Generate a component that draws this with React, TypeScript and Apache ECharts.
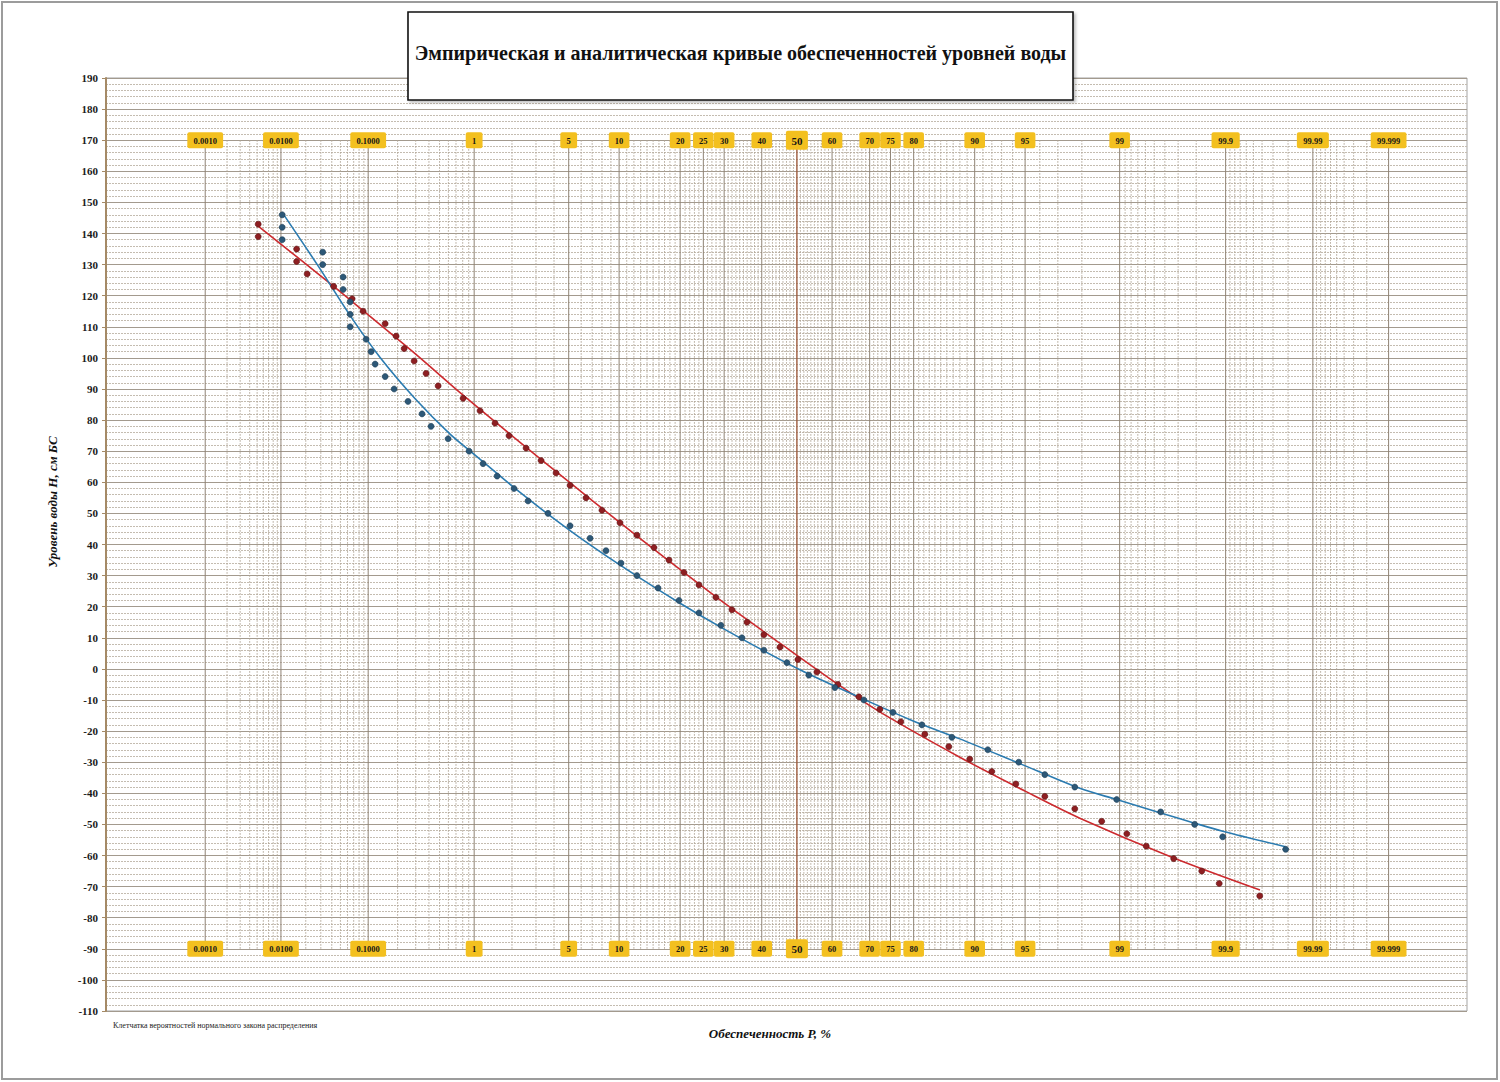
import React, { useEffect, useRef } from "react";
import * as echarts from "echarts";

// ---------- DATA ----------
// Probability labels (%) shown in yellow boxes
const labelP = [0.001, 0.01, 0.1, 1, 5, 10, 20, 25, 30, 40, 50, 60, 70, 75, 80, 90, 95, 99, 99.9, 99.99, 99.999];
const labelText = ["0.0010", "0.0100", "0.1000", "1", "5", "10", "20", "25", "30", "40", "50", "60", "70", "75", "80", "90", "95", "99", "99.9", "99.99", "99.999"];
const labelRows = [170, -90];

// Empirical points: normal quantile t (x position) and water level H (cm BS)
const redT = [-3.883, -3.883, -3.606, -3.606, -3.53, -3.339, -3.206, -3.127, -2.968, -2.889, -2.831, -2.759, -2.673, -2.586, -2.406, -2.284, -2.176, -2.075, -1.952, -1.844, -1.736, -1.635, -1.52, -1.405, -1.275, -1.153, -1.03, -0.922, -0.814, -0.706, -0.584, -0.468, -0.36, -0.238, -0.122, 0.007, 0.144, 0.295, 0.447, 0.598, 0.749, 0.922, 1.095, 1.246, 1.405, 1.578, 1.787, 2.003, 2.197, 2.378, 2.518, 2.716, 2.918, 3.044, 3.336];
const redH = [143, 139, 135, 131, 127, 123, 119, 115, 111, 107, 103, 99, 95, 91, 87, 83, 79, 75, 71, 67, 63, 59, 55, 51, 47, 43, 39, 35, 31, 27, 23, 19, 15, 11, 7, 3, -1, -5, -9, -13, -17, -21, -25, -29, -33, -37, -41, -45, -49, -53, -57, -61, -65, -69, -73];

const blueT = [-3.71, -3.71, -3.71, -3.418, -3.418, -3.271, -3.271, -3.22, -3.22, -3.22, -3.105, -3.069, -3.04, -2.968, -2.903, -2.803, -2.702, -2.637, -2.514, -2.363, -2.262, -2.161, -2.039, -1.938, -1.794, -1.635, -1.491, -1.376, -1.268, -1.153, -1.001, -0.85, -0.706, -0.548, -0.396, -0.238, -0.072, 0.086, 0.274, 0.483, 0.692, 0.901, 1.117, 1.376, 1.599, 1.787, 2.003, 2.305, 2.622, 2.867, 3.069, 3.523];
const blueH = [146, 142, 138, 134, 130, 126, 122, 118, 114, 110, 106, 102, 98, 94, 90, 86, 82, 78, 74, 70, 66, 62, 58, 54, 50, 46, 42, 38, 34, 30, 26, 22, 18, 14, 10, 6, 2, -2, -6, -10, -14, -18, -22, -26, -30, -34, -38, -42, -46, -50, -54, -58];

// Analytical (fitted) curves
const redCurveT = [-3.883, -3.339, -3.127, -2.75, -2.406, -2.0, -1.645, -1.282, -0.939, -0.5, -0.12, 0.31, 0.6, 1.174, 1.645, 2.039, 2.716, 3.338];
const redCurveH = [142.4, 123, 115.2, 101.3, 88, 73, 60.2, 47.3, 35.3, 20.4, 8.2, -5.4, -13.9, -28.4, -39.3, -48, -60.8, -71.1];
const blueCurveT = [-3.703, -3.45, -3.214, -3.0, -2.75, -2.5, -2.326, -2.0, -1.645, -1.282, -0.842, -0.524, 0.022, 0.524, 0.842, 1.174, 1.599, 2.039, 2.305, 2.622, 2.867, 3.069, 3.521];
const blueCurveH = [146.3, 129.5, 113.2, 99.9, 86.8, 75.5, 69, 56.9, 44.8, 33.6, 21.1, 12.8, -0.3, -10.6, -16.8, -22.5, -30.3, -38.4, -42, -46.3, -49.6, -52.2, -57.2];

// ---------- HELPERS ----------
const SERIF = '"Liberation Serif", "Times New Roman", serif';

function probit(p: number): number {
  const a = [-3.969683028665376e1, 2.209460984245205e2, -2.759285104469687e2, 1.38357751867269e2, -3.066479806614716e1, 2.506628277459239];
  const b = [-5.447609879822406e1, 1.615858368580409e2, -1.556989798598866e2, 6.680131188771972e1, -1.328068155288572e1];
  const c = [-7.784894002430293e-3, -3.223964580411365e-1, -2.400758277161838, -2.549732539343734, 4.374664141464968, 2.938163982698783];
  const d = [7.784695709041462e-3, 3.224671290700398e-1, 2.445134137142996, 3.754408661907416];
  const plow = 0.02425;
  if (p < plow) {
    const q = Math.sqrt(-2 * Math.log(p));
    return (((((c[0] * q + c[1]) * q + c[2]) * q + c[3]) * q + c[4]) * q + c[5]) / ((((d[0] * q + d[1]) * q + d[2]) * q + d[3]) * q + 1);
  } else if (p <= 1 - plow) {
    const q = p - 0.5;
    const r = q * q;
    return ((((((a[0] * r + a[1]) * r + a[2]) * r + a[3]) * r + a[4]) * r + a[5]) * q) / (((((b[0] * r + b[1]) * r + b[2]) * r + b[3]) * r + b[4]) * r + 1);
  }
  const q = Math.sqrt(-2 * Math.log(1 - p));
  return -(((((c[0] * q + c[1]) * q + c[2]) * q + c[3]) * q + c[4]) * q + c[5]) / ((((d[0] * q + d[1]) * q + d[2]) * q + d[3]) * q + 1);
}

// probability-paper ruling (%)
function gridProbabilities(): number[] {
  const out: number[] = [];
  for (let i = 1; i <= 9; i++) out.push(i / 1000);
  for (let i = 1; i <= 9; i++) out.push(i / 100);
  for (let i = 1; i <= 9; i++) out.push(i / 10);
  for (let i = 1; i <= 99; i++) out.push(i);
  for (let i = 1; i <= 9; i++) out.push(99 + i / 10);
  for (let i = 1; i <= 9; i++) out.push(99.9 + i / 100);
  for (let i = 1; i <= 9; i++) out.push(99.99 + i / 1000);
  return out;
}

const zip = (xs: number[], ys: number[]) => xs.map((x, i) => [x, ys[i]]);

export default function App() {
  const ref = useRef<HTMLDivElement>(null);

  useEffect(() => {
    if (!ref.current) return;
    const chart = echarts.init(ref.current, undefined, { renderer: "svg" });

    const gp = gridProbabilities();
    const vData = gp.map((p) => {
      const isLabel = labelP.some((l) => Math.abs(l - p) < 1e-9);
      const kind = Math.abs(p - 50) < 1e-9 ? 2 : isLabel ? 1 : 0;
      return [probit(p / 100), kind];
    });

    const boxData: number[][] = [];
    labelRows.forEach((row) => {
      labelP.forEach((p, i) => boxData.push([probit(p / 100), row, i]));
    });

    const option: any = {
      animation: false,
      backgroundColor: "#ffffff",
      grid: {
        left: 106,
        top: 78,
        width: 1361,
        height: 933,
        show: true,
        borderColor: "#a3a3a3",
        borderWidth: 1,
        backgroundColor: "#ffffff",
      },
      xAxis: {
        type: "value",
        min: -4.98,
        max: 4.83,
        show: false,
      },
      yAxis: {
        type: "value",
        min: -110,
        max: 190,
        interval: 10,
        axisLine: { show: true, onZero: false, lineStyle: { color: "#a58a66", width: 2 } },
        axisTick: { show: true, length: 4, lineStyle: { color: "#a58a66" } },
        minorTick: { show: false, splitNumber: 5 },
        axisLabel: {
          color: "#1a1a1a",
          fontFamily: SERIF,
          fontWeight: "bold",
          fontSize: 11,
          margin: 8,
        },
        splitLine: { show: true, lineStyle: { color: "#a39a8e", width: 1 } },
        minorSplitLine: { show: true, lineStyle: { color: "#c4bcb0", width: 1, type: [2, 1] } },
      },
      series: [
        {
          type: "custom",
          name: "grid",
          silent: true,
          z: 1,
          clip: false,
          data: vData,
          renderItem: (params: any, api: any) => {
            const t = api.value(0);
            const kind = api.value(1);
            const p1 = api.coord([t, 170]);
            const p2 = api.coord([t, -90]);
            const style: any =
              kind === 2
                ? { stroke: "#9c5a3c", lineWidth: 1.4 }
                : kind === 1
                ? { stroke: "#8f8374", lineWidth: 1 }
                : { stroke: "#b0a596", lineWidth: 1, lineDash: [1.5, 1.5] };
            return {
              type: "line",
              shape: { x1: p1[0], y1: p1[1], x2: p2[0], y2: p2[1] },
              style,
            };
          },
        },
        {
          type: "line",
          name: "red curve",
          data: zip(redCurveT, redCurveH),
          smooth: 0.3,
          showSymbol: false,
          symbol: "none",
          z: 3,
          lineStyle: { color: "#cc2a2e", width: 1.6 },
        },
        {
          type: "line",
          name: "blue curve",
          data: zip(blueCurveT, blueCurveH),
          smooth: 0.3,
          showSymbol: false,
          symbol: "none",
          z: 3,
          lineStyle: { color: "#2b7bb0", width: 1.6 },
        },
        {
          type: "scatter",
          name: "red points",
          data: zip(redT, redH),
          symbolSize: 6,
          z: 4,
          itemStyle: { color: "#8e1f22", borderColor: "#5a1214", borderWidth: 0.6, opacity: 1 },
        },
        {
          type: "scatter",
          name: "blue points",
          data: zip(blueT, blueH),
          symbolSize: 6,
          z: 4,
          itemStyle: { color: "#2d5877", borderColor: "#1b3a52", borderWidth: 0.6, opacity: 1 },
        },
        {
          type: "custom",
          name: "labels",
          silent: true,
          z: 6,
          clip: false,
          data: boxData,
          renderItem: (params: any, api: any) => {
            const c = api.coord([api.value(0), api.value(1)]);
            const idx = api.value(2);
            const txt = labelText[idx];
            const big = txt === "50";
            const w = big ? 22 : txt.length * 3.8 + 13;
            const h = big ? 19 : 16;
            return {
              type: "group",
              x: c[0],
              y: c[1],
              children: [
                {
                  type: "rect",
                  shape: { x: -w / 2, y: -h / 2, width: w, height: h, r: 2 },
                  style: { fill: "#f3c01f" },
                },
                {
                  type: "text",
                  style: {
                    text: txt,
                    x: 0,
                    y: 0.5,
                    align: "center",
                    verticalAlign: "middle",
                    fontFamily: SERIF,
                    fontWeight: "bold",
                    fontSize: big ? 11 : 8.5,
                    fill: "#161616",
                  },
                },
              ],
            };
          },
        },
      ],
      graphic: [
        {
          type: "rect",
          z: 100,
          shape: { x: 2, y: 2, width: 1495, height: 1077 },
          style: { fill: "none", stroke: "#9c9c9c", lineWidth: 2 },
          silent: true,
        },
        {
          type: "rect",
          z: 100,
          shape: { x: 408, y: 12, width: 665, height: 88 },
          style: { fill: "#ffffff", stroke: "#111111", lineWidth: 1.6, shadowBlur: 3, shadowOffsetX: 2, shadowOffsetY: 2, shadowColor: "rgba(0,0,0,0.25)" },
          silent: true,
        },
        {
          type: "text",
          z: 101,
          x: 740.5,
          y: 53,
          style: {
            text: "Эмпирическая и аналитическая кривые обеспеченностей уровней воды",
            align: "center",
            verticalAlign: "middle",
            fontFamily: SERIF,
            fontWeight: "bold",
            fontSize: 20,
            fill: "#111111",
          },
        },
        {
          type: "text",
          z: 101,
          x: 52,
          y: 502,
          rotation: Math.PI / 2,
          style: {
            text: "Уровень воды H, см БС",
            align: "center",
            verticalAlign: "middle",
            fontFamily: SERIF,
            fontWeight: "bold",
            fontStyle: "italic",
            fontSize: 13,
            fill: "#111111",
          },
        },
        {
          type: "text",
          z: 101,
          x: 770,
          y: 1033,
          style: {
            text: "Обеспеченность P, %",
            align: "center",
            verticalAlign: "middle",
            fontFamily: SERIF,
            fontWeight: "bold",
            fontStyle: "italic",
            fontSize: 13,
            fill: "#111111",
          },
        },
        {
          type: "text",
          z: 101,
          x: 113,
          y: 1025,
          style: {
            text: "Клетчатка вероятностей нормального закона распределения",
            align: "left",
            verticalAlign: "middle",
            fontFamily: SERIF,
            fontSize: 8,
            fill: "#222222",
          },
        },
      ],
    };

    chart.setOption(option);
    return () => chart.dispose();
  }, []);

  return (
    <div
      ref={ref}
      style={{ position: "fixed", left: 0, top: 0, width: 1500, height: 1082, background: "#fff" }}
    />
  );
}
